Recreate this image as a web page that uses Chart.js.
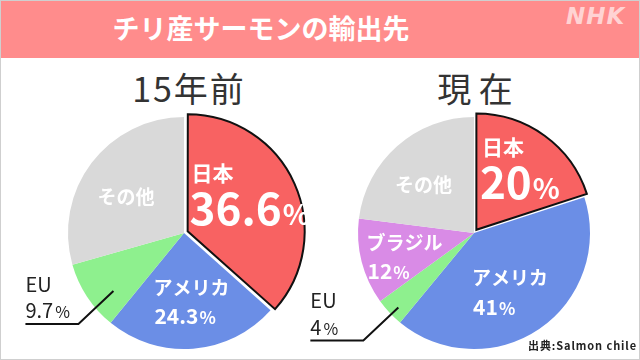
<!DOCTYPE html>
<html>
<head>
<meta charset="utf-8">
<script src="https://cdn.jsdelivr.net/npm/chart.js@4"></script>
<style>
  body { margin: 0; width: 640px; height: 360px; overflow: hidden; background: #fff; font-family: "Noto Sans CJK JP", sans-serif; }
  #frame { position: absolute; left: 0; top: 0; width: 638px; height: 358px; border: 1px solid #cfcfcf; }
  #bar { position: absolute; left: 1px; top: 1px; width: 638px; height: 57px; background: #ff8c8c; }
  #title { position: absolute; left: 0; width: 522px; top: 9px; text-align: center; color: #fff; font-weight: 700; font-size: 27px; line-height: 38px; }
  #logo { position: absolute; left: 566px; top: 3px; color: #ffd3d3; font-family: "DejaVu Sans", sans-serif; font-weight: 700; font-style: italic; font-size: 23px; letter-spacing: 1px; }
  .head { position: absolute; top: 64px; color: #333; font-size: 34px; line-height: 48px; text-align: center; width: 200px; }
  canvas { position: absolute; }
  #src { position: absolute; left: 528px; top: 337px; font-size: 11px; font-weight: 700; color: #222; letter-spacing: 0.9px; }
</style>
</head>
<body>
<div id="frame"></div>
<div id="bar"></div>
<div id="title">チリ産サーモンの輸出先</div>
<div id="logo">NHK</div>
<div class="head" style="left:89px;letter-spacing:2px">15年前</div>
<div class="head" style="left:375px">現 在</div>
<div style="position:absolute;left:0;top:60px;width:320px;height:300px"><canvas id="past"></canvas></div>
<div style="position:absolute;left:290px;top:60px;width:350px;height:300px"><canvas id="now"></canvas></div>
<div id="src">出典:Salmon chile</div>
<script>
const pastLabels = ['日本', 'アメリカ', 'EU', 'その他'];
const pastValues = [36.6, 24.3, 9.7, 29.4];
const pastColors = ['#f86262', '#6b8ee6', '#8ef08e', '#d9d9d9'];

const nowLabels = ['日本', 'アメリカ', 'EU', 'ブラジル', 'その他'];
const nowValues = [20, 41, 4, 12, 23];
const nowColors = ['#f86262', '#6b8ee6', '#8ef08e', '#d98be6', '#d9d9d9'];

// label style per slice: 'big' = 日本, 'in' = inside, 'out' = leader line, 'name' = name only
const pastKinds = ['big', 'in', 'out', 'name'];
const nowKinds = ['big', 'in', 'out', 'in', 'name'];
// nudges of text block from the slice centroid
const pastNudge = [[-56, -13], [-36, -1], [7, 7], [-31, 6]];
const nowNudge = [[-33, -11], [-41, 1], [-8, 11], [-40, 6], [-33, 4]];

const FONT = '"Noto Sans CJK JP", sans-serif';

function drawValue(ctx, x, y, val, size, color) {
  ctx.fillStyle = color;
  ctx.textBaseline = 'alphabetic';
  ctx.textAlign = 'left';
  ctx.font = `700 ${size}px ${FONT}`;
  const s = String(val);
  ctx.fillText(s, x, y);
  const w = ctx.measureText(s).width;
  ctx.font = `700 ${Math.round(size * 0.5 + 6)}px ${FONT}`;
  ctx.fillText('%', x + w + 1, y);
}

const labelPlugin = {
  id: 'sliceLabels',
  afterDatasetsDraw(chart, args, opts) {
    const ctx = chart.ctx;
    const meta = chart.getDatasetMeta(0);
    const values = chart.data.datasets[0].data;
    meta.data.forEach((arc, i) => {
      const p = arc.getProps(['x', 'y', 'startAngle', 'endAngle', 'outerRadius'], true);
      const mid = (p.startAngle + p.endAngle) / 2;
      const kind = opts.kinds[i];
      const frac = kind === 'out' ? 0.8 : 0.6;
      const nx = p.x + Math.cos(mid) * p.outerRadius * frac + opts.nudge[i][0];
      const ny = p.y + Math.sin(mid) * p.outerRadius * frac + opts.nudge[i][1];
      const name = chart.data.labels[i];
      ctx.save();
      if (kind === 'big') {
        ctx.fillStyle = '#fff';
        ctx.font = `700 21px ${FONT}`;
        ctx.textAlign = 'left';
        ctx.textBaseline = 'middle';
        ctx.fillText(name, nx, ny - opts.bigGap);
        drawValue(ctx, nx - 2, ny + 33, values[i], 44, '#fff');
      } else if (kind === 'in') {
        ctx.fillStyle = '#fff';
        ctx.font = `700 19px ${FONT}`;
        ctx.textAlign = 'left';
        ctx.textBaseline = 'middle';
        ctx.fillText(name, nx, ny - 14);
        drawValue(ctx, nx + 1, ny + 23, values[i], 21, '#fff');
      } else if (kind === 'name') {
        ctx.fillStyle = '#fff';
        ctx.font = `700 19px ${FONT}`;
        ctx.textAlign = 'left';
        ctx.textBaseline = 'middle';
        ctx.fillText(name, nx, ny);
      } else {
        const ex = nx - 35, ey = ny + 33;
        ctx.strokeStyle = '#111';
        ctx.lineWidth = 2;
        ctx.beginPath();
        ctx.moveTo(nx, ny);
        ctx.lineTo(ex, ey);
        ctx.lineTo(ex - 53, ey);
        ctx.stroke();
        ctx.fillStyle = '#222';
        ctx.font = `400 20px ${FONT}`;
        ctx.textAlign = 'left';
        ctx.textBaseline = 'middle';
        ctx.fillText(name, ex - 53, ey - 40);
        const s = String(values[i]);
        ctx.textBaseline = 'alphabetic';
        ctx.fillText(s, ex - 53, ey - 6);
        const w = ctx.measureText(s).width;
        ctx.font = `400 16px ${FONT}`;
        ctx.fillText('%', ex - 53 + w + 2, ey - 6);
      }
      ctx.restore();
    });
  }
};

function makePie(id, labels, values, colors, kinds, nudge, padding, bigGap) {
  const borders = values.map((v, i) => i === 0 ? '#111' : '#fff');
  const widths = values.map((v, i) => i === 0 ? 2 : 0);
  // chart.js divides offset by 4 when drawing
  const offsets = values.map((v, i) => i === 0 ? 16 : 0);
  new Chart(document.getElementById(id), {
    type: 'pie',
    data: {
      labels: labels,
      datasets: [{
        data: values,
        backgroundColor: colors,
        borderColor: borders,
        borderWidth: widths,
        offset: offsets,
        borderJoinStyle: 'miter',
        radius: 116
      }]
    },
    options: {
      responsive: true,
      maintainAspectRatio: false,
      animation: false,
      layout: { padding: padding },
      plugins: {
        legend: { display: false },
        tooltip: { enabled: false },
        sliceLabels: { kinds: kinds, nudge: nudge, bigGap: bigGap }
      }
    },
    plugins: [labelPlugin]
  });
}

makePie('past', pastLabels, pastValues, pastColors, pastKinds, pastNudge,
  { left: 48, right: 0, top: 46, bottom: 0 }, 19);
makePie('now', nowLabels, nowValues, nowColors, nowKinds, nowNudge,
  { left: 18, right: 0, top: 46, bottom: 0 }, 19);
</script>
</body>
</html>
